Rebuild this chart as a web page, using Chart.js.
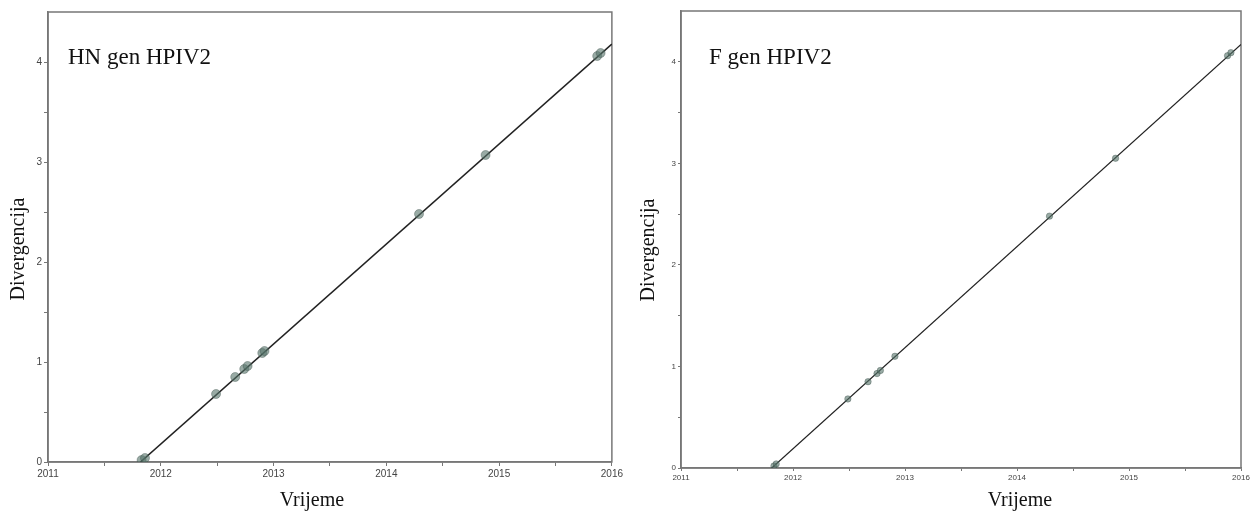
<!DOCTYPE html>
<html>
<head>
<meta charset="utf-8">
<script src="https://cdn.jsdelivr.net/npm/chart.js@4.4.0/dist/chart.umd.min.js"></script>
<style>
  body { margin: 0; background: #fff; width: 1258px; height: 514px; overflow: hidden; position: relative; }
  .panel { position: absolute; top: 0; height: 514px; }
</style>
</head>
<body>
<div class="panel" style="left:0;width:625px"><canvas id="hnChart"></canvas></div>
<div class="panel" style="left:625px;width:633px"><canvas id="fChart"></canvas></div>
<script>
// ==== data
const yearTicks = [2011, 2012, 2013, 2014, 2015, 2016];
const divTicks = [0, 1, 2, 3, 4];

// HN gen HPIV2 - sampled sequences (time, divergence)
const hnYears = [2011.83, 2011.86, 2012.49, 2012.66, 2012.74, 2012.77, 2012.90, 2012.92, 2014.29, 2014.88, 2015.87, 2015.90];
const hnDiv = [0.02, 0.04, 0.68, 0.85, 0.93, 0.96, 1.09, 1.11, 2.48, 3.07, 4.06, 4.09];
// regression line
const hnLineYears = [2011.82, 2016];
const hnLineDiv = [0, 4.18];

// F gen HPIV2
const fYears = [2011.83, 2011.85, 2012.49, 2012.67, 2012.75, 2012.78, 2012.91, 2014.29, 2014.88, 2015.88, 2015.91];
const fDiv = [0.02, 0.04, 0.68, 0.85, 0.93, 0.96, 1.10, 2.48, 3.05, 4.06, 4.09];
const fLineYears = [2011.81, 2016];
const fLineDiv = [0, 4.17];

const toXY = (xs, ys) => xs.map((x, i) => ({ x: x, y: ys[i] }));

// frame round the plot area + texts
const framePlugin = {
  id: 'frame',
  beforeDatasetsDraw(chart) {
    const a = chart.chartArea, ctx = chart.ctx;
    ctx.save();
    ctx.strokeStyle = '#777';
    ctx.lineWidth = 1.5;
    ctx.strokeRect(a.left, a.top, a.right - a.left, a.bottom - a.top);
    ctx.restore();
  },
  afterDraw(chart, args, o) {
    const ctx = chart.ctx;
    ctx.save();
    ctx.fillStyle = '#111';
    ctx.font = '23px "Liberation Serif", serif';
    ctx.textAlign = 'left';
    ctx.textBaseline = 'alphabetic';
    ctx.fillText(o.label, o.labelX, o.labelY);

    ctx.font = '20px "Liberation Serif", serif';
    ctx.textAlign = 'center';
    ctx.textBaseline = 'middle';
    ctx.fillText(o.xTitle, o.xTitleX, o.xTitleY);

    ctx.translate(o.yTitleX, o.yTitleY);
    ctx.rotate(-Math.PI / 2);
    ctx.fillText(o.yTitle, 0, 0);
    ctx.restore();
  }
};

function makeChart(id, pts, lineX, lineY, s) {
  return new Chart(document.getElementById(id), {
    type: 'scatter',
    data: {
      datasets: [{
        data: toXY(pts[0], pts[1]),
        order: 1,
        pointRadius: s.radius,
        pointBackgroundColor: 'rgba(85,115,105,0.6)',
        pointBorderColor: 'rgba(50,70,65,0.45)',
        pointBorderWidth: 0.8
      }, {
        type: 'line',
        data: toXY(lineX, lineY),
        order: 2,
        borderColor: '#222',
        borderWidth: s.lineWidth,
        pointRadius: 0,
        fill: false
      }]
    },
    options: {
      responsive: true,
      maintainAspectRatio: false,
      animation: false,
      layout: { padding: s.padding },
      plugins: {
        legend: { display: false },
        tooltip: { enabled: false },
        frame: s.texts
      },
      scales: {
        x: {
          type: 'linear',
          min: 2011,
          max: 2016,
          afterFit: (sc) => { sc.height = s.xHeight; },
          ticks: {
            stepSize: 0.5,
            autoSkip: false,
            maxRotation: 0,
            padding: 2,
            color: '#444',
            font: { family: '"Liberation Sans", Arial', size: s.tickFont },
            callback: (v) => yearTicks.includes(v) ? String(v) : ''
          },
          grid: { drawOnChartArea: false, tickLength: s.tickLen, tickColor: '#777' },
          border: { color: '#777', width: 1.5 }
        },
        y: {
          min: 0,
          max: 4.5,
          afterFit: (sc) => { sc.width = s.yWidth; },
          ticks: {
            stepSize: 0.5,
            autoSkip: false,
            padding: 2,
            color: '#444',
            font: { family: '"Liberation Sans", Arial', size: s.tickFont },
            // no tick mark at the top edge
            callback: (v) => v > 4.4 ? null : (divTicks.includes(v) ? String(v) : '')
          },
          grid: { drawOnChartArea: false, tickLength: s.tickLen, tickColor: '#777' },
          border: { color: '#777', width: 1.5 }
        }
      }
    },
    plugins: [framePlugin]
  });
}

makeChart('hnChart', [hnYears, hnDiv], hnLineYears, hnLineDiv, {
  radius: 4.5, lineWidth: 1.6, tickFont: 10, tickLen: 4,
  padding: { left: 0, right: 12, top: 12, bottom: 0 },
  xHeight: 52, yWidth: 48,
  texts: {
    label: 'HN gen HPIV2', labelX: 68, labelY: 64,
    xTitle: 'Vrijeme', xTitleX: 312, xTitleY: 501,
    yTitle: 'Divergencija', yTitleX: 19, yTitleY: 249
  }
});

makeChart('fChart', [fYears, fDiv], fLineYears, fLineDiv, {
  radius: 3.2, lineWidth: 1.2, tickFont: 8, tickLen: 3,
  padding: { left: 0, right: 17, top: 11, bottom: 0 },
  xHeight: 46, yWidth: 56,
  texts: {
    label: 'F gen HPIV2', labelX: 84, labelY: 64,
    xTitle: 'Vrijeme', xTitleX: 395, xTitleY: 501,
    yTitle: 'Divergencija', yTitleX: 24, yTitleY: 250
  }
});
</script>
</body>
</html>
